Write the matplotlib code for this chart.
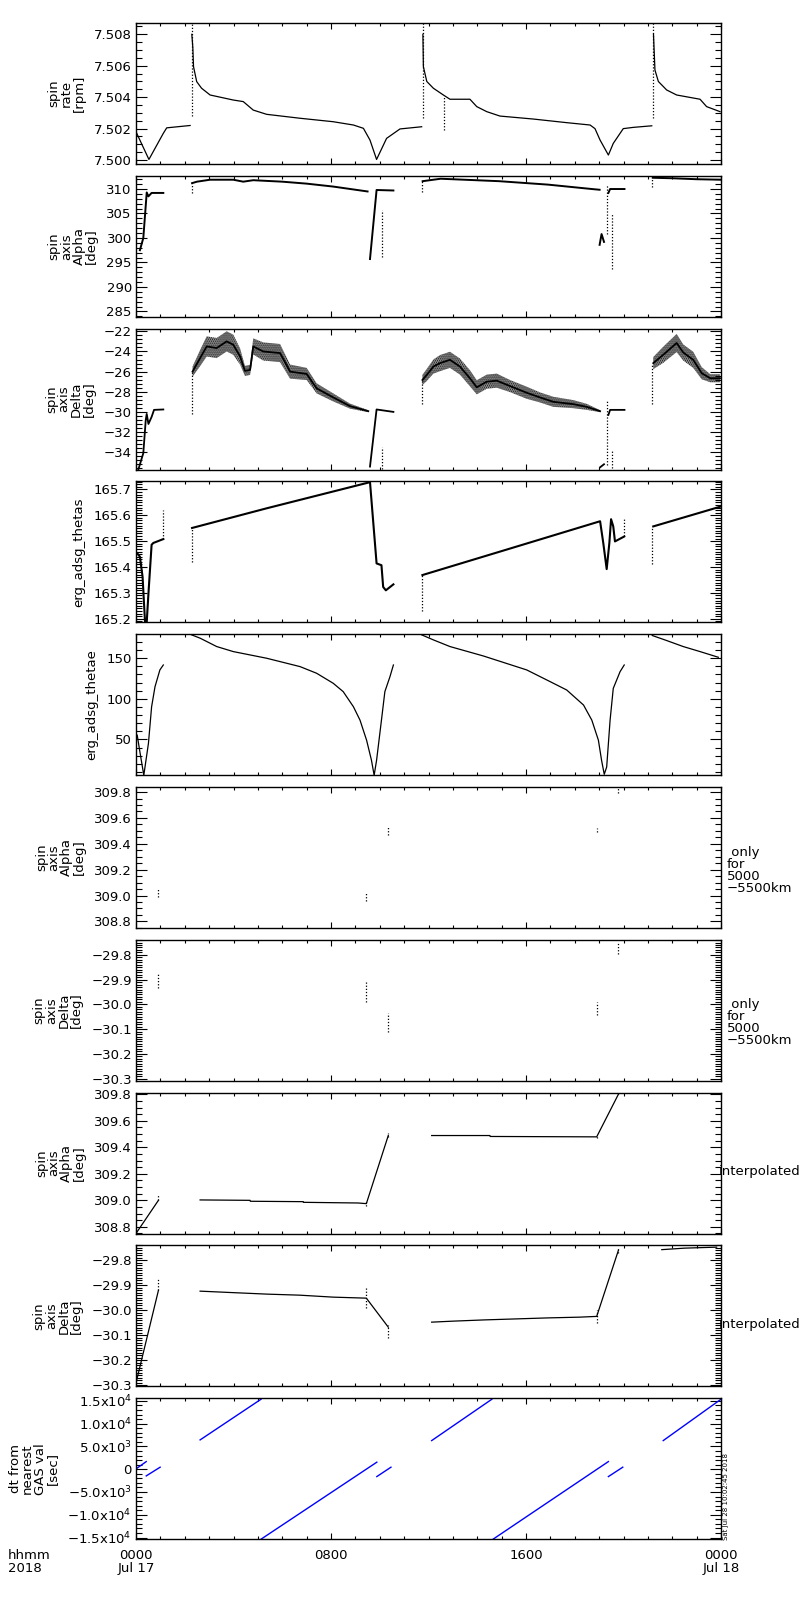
import numpy as np
import matplotlib
matplotlib.use("Agg")
import matplotlib.pyplot as plt
from matplotlib.ticker import MultipleLocator, FixedLocator, FuncFormatter

nan = np.nan

# ---- data (hours since 2018-07-17 00:00) ----
# spin rate [rpm]
rate_hr = [0.0, 0.53, 1.12, 1.26, 2.22, nan,
           2.29, 2.33, 2.36, 2.49, 2.69, 3.04, 3.99, 4.40, 4.81, 5.36, 6.73, 8.09,
           8.92, 9.33, 9.60, 9.87, 10.28, 10.83, 11.72, nan,
           11.77, 11.79, 11.93, 12.20, 12.61, 12.88, 13.70, 13.98, 14.39, 14.93,
           16.30, 17.67, 18.63, 18.83, 19.04, 19.38, 19.58, 19.99, 20.40, 21.16, nan,
           21.23, 21.29, 21.43, 21.77, 22.18, 23.14, 23.41, 23.96]
rate_val = [7.5018, 7.50004, 7.5017, 7.50205, 7.5022, nan,
            7.5080, 7.5072, 7.50594, 7.50499, 7.50457, 7.50414, 7.50382, 7.50372,
            7.50318, 7.50291, 7.50266, 7.50244, 7.50223, 7.50202, 7.50127, 7.50004,
            7.50138, 7.50198, 7.50212, nan,
            7.5080, 7.50594, 7.5050, 7.50457, 7.50414, 7.50387, 7.50387, 7.5034,
            7.50308, 7.5028, 7.50261, 7.50238, 7.50223, 7.5020, 7.50127, 7.50032,
            7.50106, 7.5020, 7.50208, 7.50218, nan,
            7.5080, 7.50573, 7.5050, 7.50446, 7.50414, 7.50387, 7.5034, 7.50308]
rate_spike_hr = [2.28, 11.76, 12.65, 21.21]
rate_spike_lo = [7.5028, 7.50266, 7.50191, 7.50266]
rate_spike_hi = [7.5087, 7.5087, 7.5040, 7.5087]

# spin axis Alpha [deg]
alpha_hr = [0.16, 0.30, 0.44, 0.51, 0.64, 1.12, nan,
            2.30, 2.50, 3.04, 3.99, 4.40, 4.81, 6.00, 7.00, 8.09, 9.50, nan,
            9.60, 9.87, 10.56, nan,
            11.76, 12.50, 14.90, 16.90, 18.70, 19.02, nan,
            19.02, 19.10, 19.20, nan,
            19.38, 19.45, 20.04, nan,
            21.20, 22.00, 23.00, 24.00]
alpha_val = [297.5, 300.0, 309.3, 308.5, 309.2, 309.2, nan,
             311.2, 311.5, 311.9, 311.9, 311.5, 311.8, 311.5, 311.1, 310.5, 309.5, nan,
             295.7, 309.8, 309.7, nan,
             311.6, 312.1, 311.6, 310.9, 310.0, 309.85, nan,
             298.6, 300.8, 299.2, nan,
             309.2, 310.0, 310.0, nan,
             312.3, 312.2, 312.0, 311.9]
alpha_spike_hr = [2.28, 10.10, 11.72, 19.33, 19.54, 21.18]
alpha_spike_lo = [309.2, 296.2, 309.3, 300.8, 293.7, 310.4]
alpha_spike_hi = [311.2, 305.8, 311.6, 311.0, 305.1, 312.3]

# spin axis Delta [deg]: centre of the scatter band and its half width
delta_hr = [0.10, 0.30, 0.40, 0.44, 0.51, 0.64, 0.74, 1.12, nan,
            2.32, 2.63, 2.90, 3.31, 3.72, 3.99, 4.27, 4.47, 4.68, 4.81, 5.22, 5.91,
            6.32, 7.00, 7.41, 8.09, 8.78, 9.53, nan,
            9.60, 9.87, 10.56, nan,
            11.75, 11.93, 12.20, 12.47, 12.88, 13.29, 13.70, 13.98, 14.39, 14.80,
            15.34, 16.03, 16.57, 17.12, 17.94, 18.49, 19.04, nan,
            19.04, 19.20, nan,
            19.38, 19.45, 20.04, nan,
            21.22, 21.63, 22.18, 22.45, 22.86, 23.21, 23.56, 23.96]
delta_mid = [-35.7, -34.1, -30.8, -30.2, -31.2, -30.5, -29.8, -29.76, nan,
             -26.0, -24.66, -23.5, -23.66, -23.0, -23.33, -24.5, -25.93, -25.83,
             -23.5, -24.0, -24.16, -26.0, -26.23, -27.66, -28.56, -29.43, -29.93, nan,
             -35.43, -29.76, -30.0, nan,
             -26.83, -26.33, -25.5, -25.16, -24.83, -25.5, -26.66, -27.56, -27.0,
             -26.9, -27.43, -28.1, -28.56, -29.0, -29.23, -29.5, -29.93, nan,
             -35.5, -35.2, nan,
             -30.3, -29.8, -29.8, nan,
             -25.16, -24.33, -23.16, -24.1, -24.83, -26.16, -26.66, -26.66]
delta_half = [0, 0, 0, 0, 0, 0, 0, 0, nan,
              0.5, 0.8, 1.0, 1.0, 1.0, 1.0, 0.8, 0.5, 0.5, 0.8, 0.9, 0.9,
              0.7, 0.6, 0.5, 0.4, 0.25, 0.1, nan,
              0, 0, 0, nan,
              0.5, 0.6, 0.7, 0.8, 0.8, 0.8, 0.8, 0.7, 0.7, 0.7,
              0.6, 0.6, 0.5, 0.5, 0.4, 0.3, 0.1, nan,
              0, 0, nan,
              0, 0, 0, nan,
              0.6, 0.8, 0.9, 0.8, 0.8, 0.6, 0.4, 0.4]
delta_spike_hr = [2.28, 10.10, 11.75, 19.33, 19.54, 21.18]
delta_spike_lo = [-30.2, -35.7, -29.2, -35.3, -35.6, -29.2]
delta_spike_hi = [-26.0, -33.5, -26.8, -28.8, -33.8, -25.2]

# erg_adsg_thetas
thetas_hr = [0.05, 0.16, 0.27, 0.37, 0.44, 0.51, 0.64, 0.71, 1.12, nan,
             2.30, 5.36, 9.60, 9.87, 10.07, 10.14, 10.25, 10.56, nan,
             11.75, 15.40, 19.04, 19.17, 19.31, 19.42, 19.49, 19.58, 19.65, 20.03, nan,
             21.22, 23.96]
thetas_val = [165.453, 165.44, 165.362, 165.187, 165.187, 165.297, 165.486, 165.493,
              165.508, nan,
              165.551, 165.627, 165.728, 165.414, 165.407, 165.323, 165.31, 165.333, nan,
              165.369, 165.473, 165.577, 165.493, 165.392, 165.493, 165.585, 165.557,
              165.499, 165.518, nan,
              165.557, 165.633]
thetas_spike_hr = [1.12, 2.28, 11.75, 20.03, 21.18]
thetas_spike_lo = [165.51, 165.42, 165.23, 165.52, 165.41]
thetas_spike_hi = [165.62, 165.55, 165.37, 165.59, 165.55]

# erg_adsg_thetae
thetae_hr = [0.05, 0.16, 0.32, 0.51, 0.64, 0.78, 0.98, 1.12, nan,
             2.28, 2.63, 3.31, 3.99, 5.36, 6.73, 7.41, 8.09, 8.50, 8.92, 9.19, 9.46,
             9.66, 9.77, 9.87, 10.07, 10.21, 10.42, 10.56, nan,
             11.72, 12.20, 12.88, 14.25, 16.03, 16.99, 17.67, 18.36, 18.70, 18.97,
             19.10, 19.21, 19.31, 19.45, 19.58, 19.72, 19.86, 20.03, nan,
             21.18, 21.77, 22.45, 23.14, 23.89]
thetae_val = [55.3, 34.7, 5.9, 45.1, 90.2, 115.0, 135.6, 141.7, nan,
              178.8, 174.7, 164.4, 158.2, 150.0, 139.7, 131.5, 119.2, 108.9, 90.3,
              73.8, 49.1, 24.4, 5.9, 24.4, 73.8, 108.9, 127.4, 141.7, nan,
              178.8, 172.6, 164.4, 152.8, 135.6, 121.2, 110.9, 92.4, 73.8, 49.1,
              24.4, 7.1, 16.1, 73.8, 112.9, 123.2, 133.5, 141.7, nan,
              178.0, 171.8, 164.4, 158.2, 151.2]

# spin axis at 5000-5500 km only (short clusters of points)
gas_hr = [0.92, 9.45, 10.35, 18.93, 19.79]
gas_alpha_lo = [308.99, 308.955, 309.47, 309.49, 309.79]
gas_alpha_hi = [309.05, 309.02, 309.53, 309.52, 309.83]
gas_delta_lo = [-29.935, -29.989, -30.11, -30.042, -29.797]
gas_delta_hi = [-29.874, -29.908, -30.036, -29.989, -29.753]

# interpolated spin axis
ialpha_hr = [0.0, 0.92, nan, 2.63, 4.68, 4.69, 6.86, 6.87, 9.12, 9.45, 10.35, nan,
             12.13, 14.52, 14.53, 18.90, 19.79]
ialpha_val = [308.75, 309.0, nan, 309.003, 309.0, 308.993, 308.99, 308.985, 308.98,
              308.975, 309.489, nan,
              309.489, 309.489, 309.482, 309.479, 309.80]
idelta_hr = [0.0, 0.92, nan, 2.63, 4.00, 5.40, 6.70, 8.10, 9.45, 10.35, nan,
             12.13, 13.00, 14.30, 15.60, 16.90, 18.20, 18.90, 19.79, nan,
             21.57, 22.50, 23.82]
idelta_val = [-30.29, -29.92, nan, -29.923, -29.929, -29.935, -29.939, -29.947, -29.951,
              -30.067, nan,
              -30.047, -30.043, -30.038, -30.034, -30.030, -30.027, -30.024, -29.76, nan,
              -29.757, -29.751, -29.747]
igas_alpha_lo = [309.0, 308.955, 309.48, 309.47, 309.80]
igas_alpha_hi = [309.04, 309.0, 309.51, 309.49, 309.81]
igas_delta_lo = [-29.92, -29.99, -30.11, -30.05, -29.77]
igas_delta_hi = [-29.87, -29.91, -30.06, -30.00, -29.75]

# dt from nearest GAS value [sec]
dt_hr = [0.04, 0.42, nan, 0.42, 0.99, nan, 2.63, 5.13, nan, 5.13, 9.88, nan,
         9.88, 10.46, nan, 12.13, 14.60, nan, 14.65, 19.38, nan, 19.38, 19.97, nan,
         21.63, 24.0]
dt_sec = [220, 1670, nan, -1470, 440, nan, 6430, 15360, nan, -15360, 1540, nan,
          -1620, 440, nan, 6280, 15360, nan, -15360, 1670, nan, -1620, 440, nan,
          6280, 15360]

hour_ticks = [0, 8, 16, 24]
hour_labels = ["0000\nJul 17", "0800", "1600", "0000\nJul 18"]
dt_ticks = [-15000, -10000, -5000, 0, 5000, 10000, 15000]
dt_labels = ["\u22121.5x10$^4$", "\u22121.0x10$^4$", "\u22125.0x10$^3$", "0",
             "5.0x10$^3$", "1.0x10$^4$", "1.5x10$^4$"]

# ---- figure ----
plt.rcParams["font.family"] = ["DejaVu Sans"]
plt.rcParams["font.size"] = 9.5
plt.rcParams["hatch.linewidth"] = 1.1

fig = plt.figure(figsize=(8, 16), dpi=100)
W, H = 800.0, 1600.0
axes = []
for i in range(10):
    top = 23 + 152.8 * i
    ax = fig.add_axes([136 / W, 1 - (top + 141) / H, 585 / W, 141 / H])
    ax.set_xlim(0, 24)
    ax.xaxis.set_major_locator(FixedLocator(hour_ticks))
    ax.xaxis.set_minor_locator(MultipleLocator(1))
    ax.tick_params(axis="x", which="major", direction="in", top=True, length=4, width=0.8)
    ax.tick_params(axis="x", which="minor", direction="in", top=True, length=2.3, width=0.8)
    ax.tick_params(axis="y", which="major", direction="in", right=True, length=8, width=0.8, pad=3)
    ax.tick_params(axis="y", which="minor", direction="in", right=True, length=4.3, width=0.8)
    ax.tick_params(labelbottom=False)
    for s in ax.spines.values():
        s.set_linewidth(1.0)
    axes.append(ax)


def fmt(pattern):
    return FuncFormatter(lambda v, p: (pattern % v).replace("-", "\u2212"))


def spikes(ax, x, lo, hi):
    ax.vlines(x, lo, hi, colors="k", linestyles=(0, (1, 1.5)), linewidth=0.9)


ls = dict(color="k", linewidth=0.9)

# 1 spin rate
ax = axes[0]
ax.plot(rate_hr, rate_val, **ls)
spikes(ax, rate_spike_hr, rate_spike_lo, rate_spike_hi)
ax.set_ylim(7.49975, 7.50872)
ax.yaxis.set_major_locator(MultipleLocator(0.002))
ax.yaxis.set_minor_locator(MultipleLocator(0.0005))
ax.yaxis.set_major_formatter(fmt("%.3f"))
ax.set_ylabel("spin\nrate\n[rpm]", linespacing=0.95, labelpad=6)

# 2 spin axis alpha
ax = axes[1]
ax.plot(alpha_hr, alpha_val, color="k", linewidth=1.4)
spikes(ax, alpha_spike_hr, alpha_spike_lo, alpha_spike_hi)
ax.set_ylim(283.9, 312.7)
ax.yaxis.set_major_locator(MultipleLocator(5))
ax.yaxis.set_minor_locator(MultipleLocator(1))
ax.yaxis.set_major_formatter(fmt("%d"))
ax.set_ylabel("spin\naxis\nAlpha\n[deg]", linespacing=0.95, labelpad=6)

# 3 spin axis delta (noisy band drawn as a stippled envelope)
ax = axes[2]
mid = np.array(delta_mid)
half = np.array(delta_half)
ax.fill_between(delta_hr, mid - half, mid + half, facecolor="0.8", edgecolor="k",
                hatch="........", linewidth=0)
ax.plot(delta_hr, delta_mid, color="k", linewidth=1.3)
spikes(ax, delta_spike_hr, delta_spike_lo, delta_spike_hi)
ax.set_ylim(-35.73, -21.73)
ax.yaxis.set_major_locator(MultipleLocator(2))
ax.yaxis.set_minor_locator(MultipleLocator(0.4))
ax.yaxis.set_major_formatter(fmt("%d"))
ax.set_ylabel("spin\naxis\nDelta\n[deg]", linespacing=0.95, labelpad=6)

# 4 thetas
ax = axes[3]
ax.plot(thetas_hr, thetas_val, color="k", linewidth=1.5)
spikes(ax, thetas_spike_hr, thetas_spike_lo, thetas_spike_hi)
ax.set_ylim(165.186, 165.731)
ax.yaxis.set_major_locator(MultipleLocator(0.1))
ax.yaxis.set_minor_locator(MultipleLocator(0.01))
ax.yaxis.set_major_formatter(fmt("%.1f"))
ax.set_ylabel("erg_adsg_thetas", labelpad=6)

# 5 thetae
ax = axes[4]
ax.plot(thetae_hr, thetae_val, **ls)
ax.set_ylim(6.0, 179.6)
ax.yaxis.set_major_locator(MultipleLocator(50))
ax.yaxis.set_minor_locator(MultipleLocator(10))
ax.yaxis.set_major_formatter(fmt("%d"))
ax.set_ylabel("erg_adsg_thetae", labelpad=6)

# 6, 7 GAS-range only
ax = axes[5]
spikes(ax, gas_hr, gas_alpha_lo, gas_alpha_hi)
ax.set_ylim(308.749, 309.839)
ax.yaxis.set_major_locator(MultipleLocator(0.2))
ax.yaxis.set_minor_locator(MultipleLocator(0.05))
ax.yaxis.set_major_formatter(fmt("%.1f"))
ax.set_ylabel("spin\naxis\nAlpha\n[deg]", linespacing=0.95, labelpad=6)
ax.text(1.0103, 0.41, " only\nfor\n5000\n\u22125500km", transform=ax.transAxes,
        ha="left", va="center", linespacing=0.9)

ax = axes[6]
spikes(ax, gas_hr, gas_delta_lo, gas_delta_hi)
ax.set_ylim(-30.309, -29.739)
ax.yaxis.set_major_locator(MultipleLocator(0.1))
ax.yaxis.set_minor_locator(MultipleLocator(0.01))
ax.yaxis.set_major_formatter(fmt("%.1f"))
ax.set_ylabel("spin\naxis\nDelta\n[deg]", linespacing=0.95, labelpad=6)
ax.text(1.0103, 0.41, " only\nfor\n5000\n\u22125500km", transform=ax.transAxes,
        ha="left", va="center", linespacing=0.9)

# 8, 9 interpolated
ax = axes[7]
ax.plot(ialpha_hr, ialpha_val, **ls)
spikes(ax, gas_hr, igas_alpha_lo, igas_alpha_hi)
ax.set_ylim(308.749, 309.813)
ax.yaxis.set_major_locator(MultipleLocator(0.2))
ax.yaxis.set_minor_locator(MultipleLocator(0.05))
ax.yaxis.set_major_formatter(fmt("%.1f"))
ax.set_ylabel("spin\naxis\nAlpha\n[deg]", linespacing=0.95, labelpad=6)
ax.text(0.997, 0.44, "interpolated", transform=ax.transAxes, ha="left", va="center")

ax = axes[8]
ax.plot(idelta_hr, idelta_val, **ls)
spikes(ax, gas_hr, igas_delta_lo, igas_delta_hi)
ax.set_ylim(-30.304, -29.74)
ax.yaxis.set_major_locator(MultipleLocator(0.1))
ax.yaxis.set_minor_locator(MultipleLocator(0.01))
ax.yaxis.set_major_formatter(fmt("%.1f"))
ax.set_ylabel("spin\naxis\nDelta\n[deg]", linespacing=0.95, labelpad=6)
ax.text(0.997, 0.44, "interpolated", transform=ax.transAxes, ha="left", va="center")

# 10 dt from nearest GAS value
ax = axes[9]
ax.plot(dt_hr, dt_sec, color="#0000ff", linewidth=1.0)
ax.set_ylim(-15365, 15585)
ax.yaxis.set_major_locator(FixedLocator(dt_ticks))
ax.yaxis.set_minor_locator(MultipleLocator(1000))
ax.set_yticklabels(dt_labels)
ax.set_ylabel("dt from\nnearest\nGAS val\n[sec]", linespacing=0.95, labelpad=6)
ax.tick_params(labelbottom=True)
ax.tick_params(axis="x", which="major", pad=7)
ax.set_xticklabels(hour_labels, linespacing=1.0)

fig.text(8 / W, 1 - 1549 / H, "hhmm\n2018", ha="left", va="top", linespacing=1.0)
fig.text(723 / W, 1 - 1540 / H, "Sat Jul 28 10:02:45 2018", rotation=90,
         fontsize=5, ha="left", va="bottom")

fig.savefig("out.png", dpi=100)
